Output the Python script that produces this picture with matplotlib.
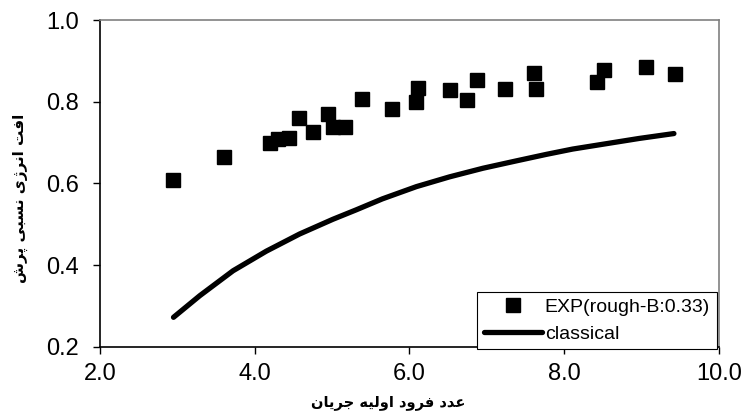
import matplotlib
matplotlib.use("Agg")
import matplotlib.pyplot as plt
from matplotlib.ticker import FormatStrFormatter

# داده ها: نقاط آزمایشگاهی
exp_fr = [2.94, 3.60, 4.20, 4.30, 4.44, 4.57, 4.76, 4.95, 5.01, 5.17, 5.39,
          5.78, 6.09, 6.11, 6.52, 6.75, 6.88, 7.23, 7.61, 7.64, 8.42, 8.52,
          9.06, 9.44]
exp_loss = [0.608, 0.664, 0.700, 0.708, 0.711, 0.760, 0.727, 0.769, 0.739,
            0.738, 0.806, 0.781, 0.799, 0.833, 0.829, 0.803, 0.853, 0.831,
            0.870, 0.831, 0.848, 0.877, 0.884, 0.868]

# منحنی کلاسیک
cls_fr = [2.95, 3.29, 3.72, 4.15, 4.58, 5.01, 5.31, 5.65, 6.09, 6.52, 6.95,
          7.38, 7.77, 8.11, 8.54, 8.97, 9.42]
cls_loss = [0.272, 0.325, 0.386, 0.434, 0.476, 0.512, 0.535, 0.562, 0.592,
            0.616, 0.637, 0.655, 0.671, 0.684, 0.697, 0.710, 0.722]

xlabel_fa = "عدد فرود اولیه جریان"
ylabel_fa = "افت انرژی نسبی پرش"

# اشکال حروف: (تنها، پایانی، آغازی، میانی) - None یعنی به بعدی نمی چسبد
forms = {
    "ا": (0xFE8D, 0xFE8E, None, None),
    "ب": (0xFE8F, 0xFE90, 0xFE91, 0xFE92),
    "پ": (0xFB56, 0xFB57, 0xFB58, 0xFB59),
    "ت": (0xFE95, 0xFE96, 0xFE97, 0xFE98),
    "ج": (0xFE9D, 0xFE9E, 0xFE9F, 0xFEA0),
    "د": (0xFEA9, 0xFEAA, None, None),
    "ر": (0xFEAD, 0xFEAE, None, None),
    "ژ": (0xFB8A, 0xFB8B, None, None),
    "س": (0xFEB1, 0xFEB2, 0xFEB3, 0xFEB4),
    "ش": (0xFEB5, 0xFEB6, 0xFEB7, 0xFEB8),
    "ع": (0xFEC9, 0xFECA, 0xFECB, 0xFECC),
    "ف": (0xFED1, 0xFED2, 0xFED3, 0xFED4),
    "ل": (0xFEDD, 0xFEDE, 0xFEDF, 0xFEE0),
    "ن": (0xFEE5, 0xFEE6, 0xFEE7, 0xFEE8),
    "ه": (0xFEE9, 0xFEEA, 0xFEEB, 0xFEEC),
    "و": (0xFEED, 0xFEEE, None, None),
    "ی": (0xFBFC, 0xFBFD, 0xFBFE, 0xFBFF),
}


def shape(text):
    out = []
    for k, ch in enumerate(text):
        if ch not in forms:
            out.append(ch)
            continue
        prev = text[k - 1] if k > 0 else " "
        nxt = text[k + 1] if k + 1 < len(text) else " "
        f = forms[ch]
        join_prev = prev in forms and forms[prev][2] is not None
        join_next = nxt in forms and f[2] is not None
        if join_prev and join_next:
            c = f[3]
        elif join_prev:
            c = f[1]
        elif join_next:
            c = f[2]
        else:
            c = f[0]
        out.append(chr(c))
    return "".join(out)[::-1]


plt.rcParams["font.family"] = ["Liberation Sans", "DejaVu Sans"]

fig = plt.figure(figsize=(7.41, 4.13), dpi=100)
ax = fig.add_axes([0.135, 0.1605, 0.835, 0.791])

ax.plot(exp_fr, exp_loss, linestyle="none", marker="s", markersize=9.5,
        color="black", label="EXP(rough-B:0.33)", zorder=3)
ax.plot(cls_fr, cls_loss, color="black", linewidth=3.8,
        solid_capstyle="round", label="classical", zorder=2)

ax.set_xlim(2.0, 10.0)
ax.set_ylim(0.2, 1.0)
ax.set_xticks([2.0, 4.0, 6.0, 8.0, 10.0])
ax.set_yticks([0.2, 0.4, 0.6, 0.8, 1.0])
ax.xaxis.set_major_formatter(FormatStrFormatter("%.1f"))
ax.yaxis.set_major_formatter(FormatStrFormatter("%.1f"))
ax.tick_params(axis="both", direction="out", length=5, width=1,
               labelsize=17, color="black")
ax.tick_params(axis="x", pad=7)
ax.tick_params(axis="y", pad=10)

ax.spines["left"].set_color("black")
ax.spines["bottom"].set_color("black")
ax.spines["top"].set_color("#808080")
ax.spines["right"].set_color("#808080")
for s in ax.spines.values():
    s.set_linewidth(1.2)

ax.set_xlabel(shape(xlabel_fa), family=["DejaVu Sans"], fontweight="bold",
              fontsize=10.5, va="center")
ax.xaxis.set_label_coords(0.465, -0.172)
ax.set_ylabel(shape(ylabel_fa), family=["DejaVu Sans"], fontweight="bold",
              fontsize=11, va="center")
ax.yaxis.set_label_coords(-0.128, 0.455)

leg = ax.legend(loc="lower right", bbox_to_anchor=(0.997, -0.008),
                fontsize=14, frameon=True, fancybox=False, framealpha=1,
                edgecolor="black", handlelength=3.0, handletextpad=0.15,
                borderpad=0.35, labelspacing=0.45, borderaxespad=0)
leg.get_frame().set_linewidth(0.8)

fig.savefig("out.png", dpi=100)
